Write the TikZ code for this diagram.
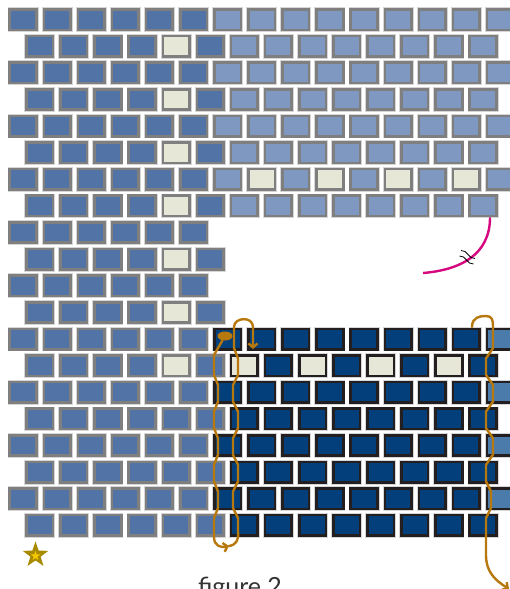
\documentclass[tikz,border=0pt]{standalone}
\usepackage{fontspec}
\setmainfont{Lato}
\usetikzlibrary{shapes.geometric,arrows.meta}
\definecolor{midblue}{HTML}{5173A6}
\definecolor{paleblue}{HTML}{7F98C1}
\definecolor{steelblue}{HTML}{4B7BAB}
\definecolor{navy}{HTML}{033F7A}
\definecolor{cream}{HTML}{E7E7D7}
\definecolor{beadedge}{HTML}{7F7F7F}
\definecolor{darkedge}{HTML}{231F20}
\definecolor{halo}{HTML}{D6D6D6}
\definecolor{thread}{HTML}{B7780E}
\definecolor{snip}{HTML}{D6087F}
\definecolor{stargold}{HTML}{A88A00}
\definecolor{staryellow}{HTML}{F5C800}
\begin{document}
\begin{tikzpicture}[x=1pt, y=-1pt,
  bead/.style={rectangle, inner sep=0pt, minimum width=26.6pt, minimum height=20.4pt,
    line width=2.6pt, draw=beadedge, fill=midblue, preaction={draw=halo, line width=4.4pt}},
  navybead/.style={draw=darkedge, fill=navy},
  knot/.style={ellipse, fill=thread, inner sep=0pt, minimum width=15pt, minimum height=9pt},
  wrap/.style={draw=thread, line width=2.4pt, line join=round, line cap=round},
  snipped/.style={draw=snip, line width=2.4pt},
  breakmark/.style={draw=black, line width=0.8pt},
  >={Straight Barb[length=4pt,width=9pt]}
]
\useasboundingbox (0,0) rectangle (510,589);

\begin{scope}[x=34.1pt, y=-26.62pt, shift={(23pt,-19.6pt)}]
% left block
\foreach \r in {1,3,...,19} \foreach \k in {0,...,5}
  \node[bead] (b\r-\k) at (\k,\r-1) {};
\foreach \r in {2,4,...,20} \foreach \k in {0,1,2,3,5}
  \node[bead] (b\r-\k) at (\k+.49,\r-1) {};
\foreach \r in {2,4,...,14}
  \node[bead, fill=cream] (b\r-4) at (4.49,\r-1) {};
\foreach \r in {16,18,20}
  \node[bead] (b\r-4) at (4.49,\r-1) {};

% upper right field
\foreach \r in {1,3,5} \foreach \k in {6,...,14}
  \node[bead, fill=paleblue] (b\r-\k) at (\k,\r-1) {};
\foreach \k in {6,8,...,14}
  \node[bead, fill=paleblue] (b7-\k) at (\k,6) {};
\foreach \k in {7,9,...,13}
  \node[bead, fill=cream] (b7-\k) at (\k,6) {};
\foreach \r in {2,4,6,8} \foreach \k in {6,...,13}
  \node[bead, fill=paleblue] (b\r-\k) at (\k+.49,\r-1) {};

% lower right field
\foreach \r in {13,15,17,19}{
  \foreach \k in {6,...,13}
    \node[bead, navybead] (b\r-\k) at (\k,\r-1) {};
  \node[bead, navybead, fill=steelblue] (b\r-14) at (14,\r-1) {};
}
\foreach \k in {6,8,10,12}
  \node[bead, navybead, fill=cream] (b14-\k) at (\k+.49,13) {};
\foreach \k in {7,9,11,13}
  \node[bead, navybead] (b14-\k) at (\k+.49,13) {};
\foreach \r in {16,18,20} \foreach \k in {6,...,13}
  \node[bead, navybead] (b\r-\k) at (\k+.49,\r-1) {};
\end{scope}

% thread, left edge
\node[knot] (stop) at (225,336) {};
\coordinate (uturn) at (229,546);
\coordinate (into14) at (253,349);
\draw[wrap, ->] (stop) -- (214,355) -- (214,375) -- (218,385) -- (218,401.5)
  -- (214,411.6) -- (214,428.1) -- (218,438.2) -- (218,454.7)
  -- (214,464.8) -- (214,481.3) -- (218,491.5) -- (218,508)
  -- (214,518.1) -- (214,537) .. controls (214,546) and (221,548) .. (uturn);
\draw[wrap, ->] (uturn) .. controls (236,545) and (239,540) .. (238,532)
  -- (238,518.1) -- (233,508) -- (233,491.5) -- (238,481.3) -- (238,464.8)
  -- (233,454.7) -- (233,438.2) -- (238,428.1) -- (238,411.6)
  -- (233,401.5) -- (233,385) -- (238,375) -- (238,358.4)
  -- (234,348) -- (234,327) .. controls (234,317) and (253,316) .. (253,327)
  -- (into14);

% thread, right edge
\coordinate (rstart) at (472,327);
\coordinate (rout) at (509,589);
\draw[wrap, ->] (rstart) .. controls (472,317) and (480,316) .. (486,316)
  .. controls (492,316) and (493,320) .. (493,326)
  -- (493,348.2) -- (486,358.4) -- (486,374.9) -- (493,385) -- (493,401.5)
  -- (486,411.6) -- (486,428.1) -- (493,438.2) -- (493,454.7)
  -- (486,464.8) -- (486,481.3) -- (491,491.5) -- (491,508)
  -- (486,518.1) -- (486,555) .. controls (486,572) and (495,580) .. (rout);

% cut thread
\coordinate (cutend) at (423,273);
\draw[snipped] ([xshift=7pt]b8-13.south) .. controls (490,255) and (460,270) .. (cutend);
\draw[breakmark] (461,250.5) .. controls (467.7,249.7) and (468.3,259.3) .. (475,258.5);
\draw[breakmark] (459.5,256) .. controls (466.2,255.2) and (466.8,264.8) .. (473.5,264);

\node[star, star points=5, star point ratio=2.5, fill=stargold, inner sep=0pt,
  minimum size=27pt] (mark) at (35.5,555) {};
\node[star, star points=5, star point ratio=2.5, fill=staryellow, inner sep=0pt,
  minimum size=10pt] (markcore) at (35.5,556) {};

\node[font=\fontsize{25}{30}\selectfont, text=black!80, anchor=base] (caption)
  at (240,595) {figure 2};
\end{tikzpicture}
\end{document}
